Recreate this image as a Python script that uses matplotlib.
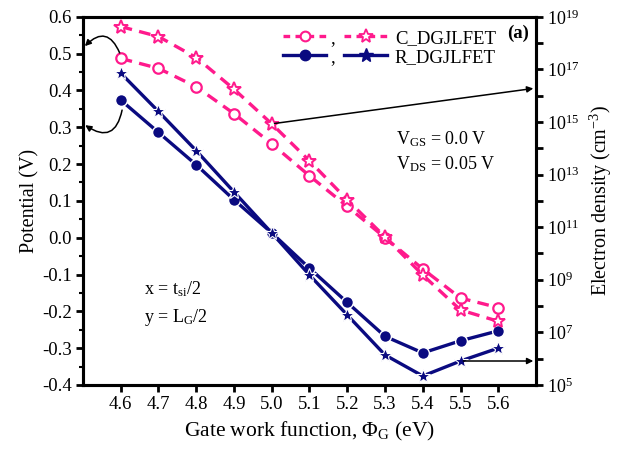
import numpy as np
import matplotlib
matplotlib.use("Agg")
import matplotlib.pyplot as plt
from matplotlib.lines import Line2D
from matplotlib.ticker import MultipleLocator, FixedLocator, NullFormatter

plt.rcParams["font.family"] = ["Liberation Serif", "DejaVu Serif"]
plt.rcParams["mathtext.fontset"] = "custom"
plt.rcParams["mathtext.rm"] = "Liberation Serif"
plt.rcParams["mathtext.it"] = "Liberation Serif:italic"

# gate work function sweep (eV)
phi_g = [4.6, 4.7, 4.8, 4.9, 5.0, 5.1, 5.2, 5.3, 5.4, 5.5, 5.6]

# centre potential (V)
pot_c = [0.487, 0.460, 0.410, 0.337, 0.255, 0.168, 0.085, 0.000, -0.085, -0.164, -0.190]
pot_r = [0.374, 0.286, 0.198, 0.103, 0.013, -0.083, -0.176, -0.268, -0.313, -0.280, -0.253]

# electron density (cm^-3), log10 values
ne_c_log = [18.63, 18.25, 17.45, 16.25, 14.93, 13.52, 12.04, 10.63, 9.18, 7.85, 7.42]
ne_r_log = [16.86, 15.40, 13.91, 12.34, 10.78, 9.18, 7.66, 6.14, 5.34, 5.91, 6.40]
ne_c = [10 ** v for v in ne_c_log]
ne_r = [10 ** v for v in ne_r_log]

pink = "#FF1A8C"
navy = "#0A0A80"

fig = plt.figure(figsize=(6.19, 4.55), dpi=100)
ax = fig.add_axes([0.134, 0.154, 0.732, 0.809])
ax2 = ax.twinx()

lw = 2.4
dash = (3.5, 2.2)

# potential (left axis): circles
ax.plot(phi_g, pot_c, color=pink, lw=lw, ls="--", dashes=dash, marker="o",
        ms=7.5, mfc="white", mec=pink, mew=1.6, zorder=3)
ax.plot(phi_g, pot_r, color=navy, lw=lw, marker="o", ms=8.5, mfc=navy,
        mec="white", mew=1.0, zorder=3)

# electron density (right axis): stars
ax2.plot(phi_g, ne_c, color=pink, lw=lw, ls="--", dashes=dash, marker="*",
         ms=10, mfc="white", mec=pink, mew=1.4, zorder=3)
ax2.plot(phi_g, ne_r, color=navy, lw=lw, marker="*", ms=10.5, mfc=navy,
         mec="white", mew=0.8, zorder=3)

ax.set_xlim(4.5, 5.7)
ax.set_ylim(-0.4, 0.6)
ax2.set_yscale("log")
ax2.set_ylim(1e5, 1e19)

ax.set_xticks(phi_g)
ax.set_xticklabels([f"{v:.1f}" for v in phi_g])
ax.yaxis.set_major_locator(MultipleLocator(0.1))
ax.yaxis.set_minor_locator(MultipleLocator(0.05))
ax.set_yticklabels([f"{v:.1f}" for v in ax.get_yticks()])

major_dec = [10.0 ** e for e in range(5, 20, 2)]
minor_dec = [10.0 ** e for e in range(6, 19, 2)]
ax2.yaxis.set_major_locator(FixedLocator(major_dec))
ax2.yaxis.set_minor_locator(FixedLocator(minor_dec))
ax2.yaxis.set_minor_formatter(NullFormatter())

for a in (ax, ax2):
    for sp in a.spines.values():
        sp.set_linewidth(2.2)
ax.tick_params(axis="both", which="major", direction="out", length=5, width=2,
               labelsize=13.5, pad=3)
ax.tick_params(axis="y", which="minor", direction="out", length=3, width=1.5)
ax2.tick_params(axis="y", which="major", direction="out", length=5, width=2,
                labelsize=13, pad=3)
ax2.tick_params(axis="y", which="minor", direction="out", length=5, width=2)

ax.set_xlabel("Gate work function, Φ$_{\\rm G}$ (eV)", fontsize=15.5, labelpad=5)
ax.set_ylabel("Potential (V)", fontsize=14.5, labelpad=2)
ax2.set_ylabel("Electron density (cm$^{-3}$)", fontsize=14.5, labelpad=6)

# arrows pointing each curve family to its axis
arr = dict(arrowstyle="-|>", color="black", lw=1.1, mutation_scale=9)
ax.annotate("", xy=(4.5, 0.515), xytext=(4.6, pot_c[0] + 0.008),
            arrowprops=dict(connectionstyle="arc3,rad=0.8", **arr))
ax.annotate("", xy=(4.5, 0.31), xytext=(4.605, pot_r[0] - 0.02),
            arrowprops=dict(connectionstyle="arc3,rad=-0.8", **arr))
ax2.annotate("", xy=(5.7, 10 ** 16.29), xytext=(phi_g[4], ne_c[4]),
             arrowprops=arr)
ax2.annotate("", xy=(5.7, ne_r[9]), xytext=(phi_g[9], ne_r[9]),
             arrowprops=arr)

# legend: circle and star keys side by side
h_circ = [Line2D([], [], color=pink, lw=lw, ls="--", dashes=(2.0, 1.6), marker="o",
                 ms=7, mfc="white", mec=pink, mew=1.5),
          Line2D([], [], color=navy, lw=lw, marker="o", ms=7.5, mfc=navy, mec=navy)]
h_star = [Line2D([], [], color=pink, lw=lw, ls="--", dashes=(2.0, 1.6), marker="*",
                 ms=10, mfc="white", mec=pink, mew=1.3),
          Line2D([], [], color=navy, lw=lw, marker="*", ms=10, mfc=navy, mec=navy)]
leg1 = ax.legend(h_circ, [",", ","], loc="upper left", bbox_to_anchor=(0.425, 0.985),
                 frameon=False, fontsize=13.5, handlelength=2.3, handletextpad=0.2,
                 labelspacing=0.1, borderaxespad=0)
ax.add_artist(leg1)
ax.legend(h_star, ["C_DGJLFET", "R_DGJLFET"], loc="upper left",
          bbox_to_anchor=(0.56, 0.985), frameon=False, fontsize=13.5,
          handlelength=2.3, handletextpad=0.4, labelspacing=0.1, borderaxespad=0)

ax.text(0.985, 0.955, "(a)", transform=ax.transAxes, ha="right", va="center",
        fontsize=13.5, fontweight="bold")
ax.text(0.69, 0.655, "V$_{\\rm GS}$ = 0.0 V", transform=ax.transAxes, fontsize=13)
ax.text(0.69, 0.585, "V$_{\\rm DS}$ = 0.05 V", transform=ax.transAxes, fontsize=13)
ax.text(0.135, 0.245, "x = t$_{\\rm si}$/2", transform=ax.transAxes, fontsize=13)
ax.text(0.135, 0.17, "y = L$_{\\rm G}$/2", transform=ax.transAxes, fontsize=13)

fig.savefig("out.png", dpi=100)
